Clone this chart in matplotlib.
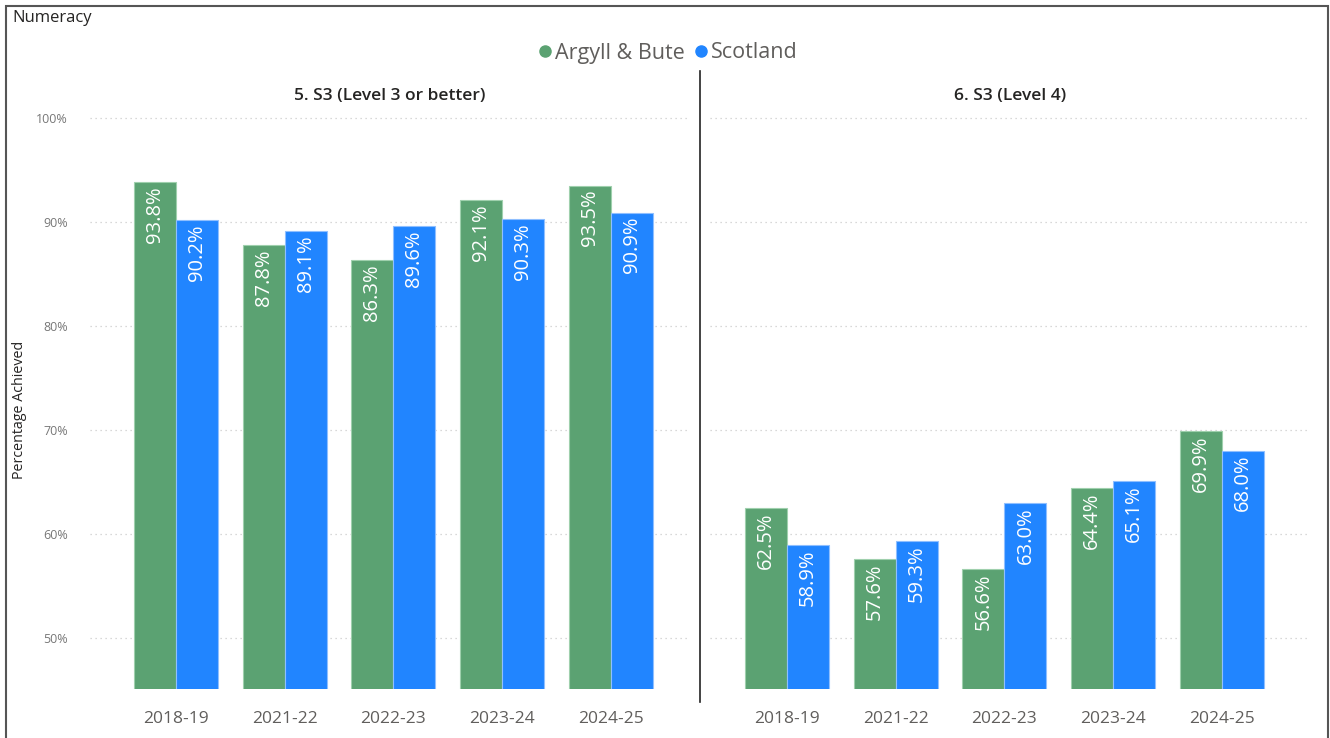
import matplotlib
matplotlib.use("Agg")
import matplotlib.pyplot as plt
from matplotlib.lines import Line2D
from matplotlib.patches import Rectangle
import numpy as np

plt.rcParams['font.family'] = ['Open Sans', 'DejaVu Sans']

categories = ["2018-19", "2021-22", "2022-23", "2023-24", "2024-25"]
panel_titles = ["5. S3 (Level 3 or better)", "6. S3 (Level 4)"]
series_names = ["Argyll & Bute", "Scotland"]
argyll_l3 = [93.8, 87.8, 86.3, 92.1, 93.5]
scotland_l3 = [90.2, 89.1, 89.6, 90.3, 90.9]
argyll_l4 = [62.5, 57.6, 56.6, 64.4, 69.9]
scotland_l4 = [58.9, 59.3, 63.0, 65.1, 68.0]
yticks = [50, 60, 70, 80, 90, 100]

green = "#5BA272"
blue = "#2185FF"

W, H = 1330, 738
fig = plt.figure(figsize=(W / 100, H / 100), dpi=100)

def fx(px):
    return px / W

def fy(py):
    return 1 - py / H

ax_bottom_px, ax_top_px = 689, 105
axes_specs = [
    (90, 690, (-0.79, 4.726), argyll_l3, scotland_l3, panel_titles[0]),
    (710, 1310, (-0.708, 4.81), argyll_l4, scotland_l4, panel_titles[1]),
]

bw = 0.386
for i, (x0, x1, xl, a_vals, s_vals, title) in enumerate(axes_specs):
    ax = fig.add_axes([fx(x0), fy(ax_bottom_px), fx(x1 - x0), (ax_bottom_px - ax_top_px) / H])
    x = np.arange(len(categories))
    b1 = ax.bar(x - bw / 2, a_vals, bw, color=green, edgecolor="#9fd0ad", linewidth=0.8, zorder=3)
    b2 = ax.bar(x + bw / 2, s_vals, bw, color=blue, edgecolor="#8fbfff", linewidth=0.8, zorder=3)
    for bars, vals in ((b1, a_vals), (b2, s_vals)):
        for rect, v in zip(bars, vals):
            ax.annotate(f"{v:.1f}%", (rect.get_x() + rect.get_width() / 2, v),
                        xytext=(0, -3), textcoords="offset points",
                        rotation=90, ha="center", va="top", color="white",
                        fontsize=14.5, zorder=4)
    ax.set_xlim(*xl)
    ax.set_ylim(45.1, 101.25)
    ax.set_xticks(x)
    ax.set_xticklabels(categories, fontsize=12.5, color="#605E5C")
    ax.tick_params(axis="x", length=0, pad=16)
    ax.set_yticks(yticks)
    if i == 0:
        ax.set_yticklabels([f"{t}%" for t in yticks], fontsize=9, color="#777777")
        ax.tick_params(axis="y", length=0, pad=16)
    else:
        ax.tick_params(axis="y", length=0, labelleft=False)
    ax.grid(axis="y", color="#cccccc", linestyle=(0, (1, 3)), linewidth=0.9, zorder=0)
    for s in ax.spines.values():
        s.set_visible(False)
    fig.text(fx((x0 + x1) / 2), fy(96), title, ha="center", va="center",
             fontsize=12.5, color="#252423", fontweight="semibold")

# Y axis label
fig.text(fx(20), fy(410), "Percentage Achieved", rotation=90, ha="center", va="center",
         fontsize=10.3, color="#252423")

# Title
fig.text(fx(12), fy(18), "Numeracy", ha="left", va="center", fontsize=12, color="#252423")

# Legend
handles = [Line2D([0], [0], marker="o", color="none", markerfacecolor=c, markeredgecolor=c, markersize=8)
           for c in (green, blue)]
leg = fig.legend(handles, series_names, loc="center", bbox_to_anchor=(fx(667), fy(53)), ncol=2,
                 frameon=False, fontsize=15.5, handletextpad=0.05, columnspacing=0.35, handlelength=0.8)
for t in leg.get_texts():
    t.set_color("#605E5C")

# Separator line
fig.add_artist(Line2D([fx(700), fx(700)], [fy(71), fy(702)], color="#222222", linewidth=1.2))

# Border
fig.add_artist(Rectangle((fx(6), fy(745)), fx(1322), 739 / H, fill=False, edgecolor="#555555",
                         linewidth=1.5, transform=fig.transFigure))

fig.savefig("out.png", dpi=100)
